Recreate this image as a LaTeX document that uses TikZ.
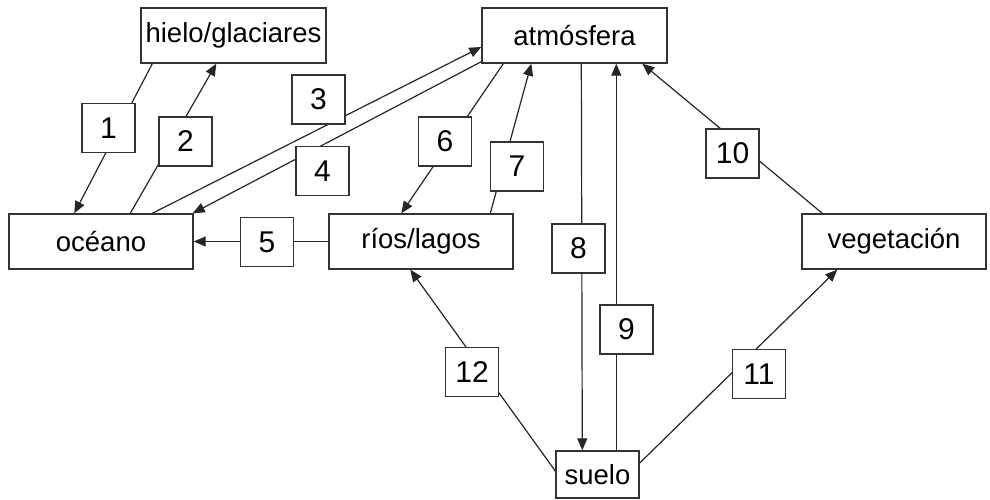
\documentclass[tikz,border=0pt]{standalone}
\usepackage{fontspec}
\setmainfont{Liberation Sans}
\usetikzlibrary{arrows.meta,calc}
\begin{document}
\begin{tikzpicture}[x=1pt,y=1pt,
  bigbox/.style={draw=black!80, line width=1.4pt, fill=white, inner sep=0pt,
    minimum width=184pt, minimum height=55pt, font=\fontsize{27.5}{30}\selectfont},
  numbox/.style={draw=black!80, line width=1.4pt, fill=white, inner sep=0pt,
    minimum width=53pt, minimum height=49pt, font=\fontsize{30}{32}\selectfont},
  flow/.style={draw=black!85, line width=1.2pt, -{Triangle[length=12pt,width=10pt]}},
]
\fill[white] (0,0) rectangle (990,499);
\useasboundingbox (0,0) rectangle (990,499);

% main nodes
\node[bigbox, minimum width=185pt] (hielo) at (233.5,463.5) {hielo/glaciares};
\node[bigbox, minimum width=185pt] (atm) at (574.5,463.5) {atmósfera};
\node[bigbox] (oceano) at (101,257.5) {océano};
\node[bigbox] (rios) at (421,257.5) {ríos/lagos};
\node[bigbox] (veg) at (894,257.5) {vegetación};
\node[bigbox, minimum width=83pt, minimum height=47pt] (suelo) at (597.5,24.5) {suelo};

% connectors
\draw[flow] ([xshift=12pt]hielo.south west) -- ([xshift=66pt]oceano.north west);
\draw[flow] ([xshift=122pt]oceano.north west) -- ([xshift=76pt]hielo.south west);
\draw[flow] ([xshift=144pt]oceano.north west) -- ($(atm.west)+(0,-11.5)$);
\draw[flow] ($(atm.south west)+(0,2)$) -- ([xshift=-1pt]oceano.north east);
\draw[flow] (rios.west) -- (oceano.east);
\draw[flow] ([xshift=22pt]atm.south west) -- ([xshift=73pt]rios.north west);
\draw[flow] ([xshift=162pt]rios.north west) -- ([xshift=50pt]atm.south west);
\draw[flow] ([xshift=100pt]atm.south west) -- ([xshift=27pt]suelo.north west);
\draw[flow] ([xshift=61pt]suelo.north west) -- ([xshift=135pt]atm.south west);
\draw[flow] ([xshift=21pt]veg.north west) -- ([xshift=161pt]atm.south west);
\draw[flow] ($(suelo.east)+(0,11.5)$) -- ([xshift=36pt]veg.south west);
\draw[flow] ($(suelo.west)+(0,3.5)$) -- ([xshift=82pt]rios.south west);

% number labels
\node[numbox] (n1) at (108.5,371) {1};
\node[numbox] (n2) at (185.5,357.5) {2};
\node[numbox] (n3) at (318.5,399.5) {3};
\node[numbox] (n4) at (322.5,328) {4};
\node[numbox] (n5) at (267,257) {5};
\node[numbox] (n6) at (445,357.5) {6};
\node[numbox] (n7) at (517,332.5) {7};
\node[numbox] (n8) at (578.5,250.5) {8};
\node[numbox] (n9) at (626.5,169.5) {9};
\node[numbox] (n10) at (732.5,345.5) {10};
\node[numbox] (n11) at (759,125) {11};
\node[numbox] (n12) at (472,127) {12};
\end{tikzpicture}
\end{document}
